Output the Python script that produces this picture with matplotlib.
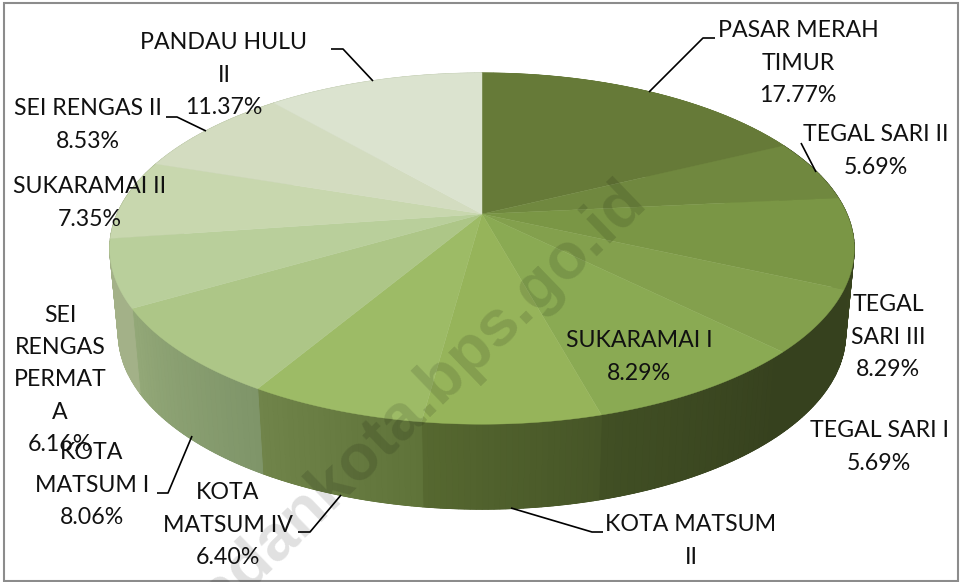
import numpy as np
import matplotlib
matplotlib.use("Agg")
import matplotlib.pyplot as plt
from matplotlib.patches import Rectangle

categories = ["PASAR MERAH\nTIMUR", "TEGAL SARI II", "TEGAL\nSARI III", "TEGAL SARI I",
              "SUKARAMAI I", "KOTA MATSUM\nII", "KOTA\nMATSUM IV", "KOTA\nMATSUM I",
              "SEI\nRENGAS\nPERMAT\nA", "SUKARAMAI II", "SEI RENGAS II", "PANDAU HULU\nII"]
values = [17.77, 5.69, 8.29, 5.69, 8.29, 6.40, 6.40, 8.06, 6.16, 7.35, 8.53, 11.37]

top_colors = ["#667a38", "#70883f", "#7a9645", "#83a04d", "#8aaa53", "#96b45a",
              "#9dbb66", "#adc687", "#b9cf9b", "#c8d7ae", "#d3dcc0", "#dbe3cf"]
# side wall colours at the start and end of each slice (clockwise)
side_colors = [("#667a38", "#667a38"), ("#3c4820", "#3c4820"), ("#3c4820", "#36411e"),
               ("#36411e", "#36411e"), ("#36411e", "#414f24"), ("#465527", "#566830"),
               ("#5f7339", "#70844a"), ("#7f9569", "#93a878"), ("#a3b188", "#a3b188"),
               ("#a3b188", "#a3b188"), ("#b8c4a4", "#b8c4a4"), ("#c0cbb0", "#c0cbb0")]

label_pos = [(798, 63), (876, 151), (888, 337), (879, 447), (639, 357), (691, 541),
             (228, 525), (92, 485), (60, 380), (90, 203), (88, 125), (224, 75)]
leaders = [[(649, 92), (703, 38), (715, 38)],
           [(816, 172), (801, 143)],
           [(511, 508), (592, 532), (603, 532)],
           [(341, 495), (310, 532), (298, 532)],
           [(192, 436), (168, 493), (157, 493)],
           [(206, 131), (177, 117), (166, 117)],
           [(373, 81), (343, 49), (331, 49)]]

# perspective of the pie: front of the disc looks bigger than the back
cx, cy = 482, 214
persp = 0.197
rx, ry = 365, 168.8
depth = 85
shrink_bottom = 0.977


def rim(theta, shrink=1.0, drop=0):
    w = 1 + persp * np.cos(theta)
    x = cx + shrink * rx * np.sin(theta) / w
    y = cy + drop - ry * np.cos(theta) / w
    return x, y


def lerp_color(c1, c2, t):
    a = np.array(matplotlib.colors.to_rgb(c1))
    b = np.array(matplotlib.colors.to_rgb(c2))
    return a + (b - a) * t


fig = plt.figure(figsize=(9.63, 5.82), dpi=100)
ax = fig.add_axes([0, 0, 1, 1])
ax.set_xlim(0, 963)
ax.set_ylim(582, 0)
ax.axis("off")

edges = np.radians(np.cumsum([0] + values) / sum(values) * 360)

# side wall: one solid piece per slice, then thin strips on it for the gradient
for i in range(len(values)):
    t = np.linspace(edges[i], edges[i + 1], 80)
    x1, y1 = rim(t)
    x2, y2 = rim(t[::-1], shrink_bottom, depth)
    ax.fill(np.r_[x1, x2], np.r_[y1, y2], color=side_colors[i][0], lw=0.5)
    steps = np.linspace(edges[i], edges[i + 1], 31)
    for j in range(30):
        s = np.array([steps[j], steps[j + 1]])
        x1, y1 = rim(s)
        x2, y2 = rim(s[::-1], shrink_bottom, depth)
        col = lerp_color(side_colors[i][0], side_colors[i][1], j / 29)
        ax.fill(np.r_[x1, x2], np.r_[y1, y2], color=col, lw=0.7)

# top face
for i in range(len(values)):
    t = np.linspace(edges[i], edges[i + 1], 80)
    x, y = rim(t)
    ax.fill(np.r_[cx, x], np.r_[cy, y], color=top_colors[i], lw=0.3)

# watermark
ax.text(648, 203, "badankota.bps.go.id", rotation=44, rotation_mode="anchor",
        ha="right", va="baseline", fontsize=47, fontweight="bold",
        family="Liberation Sans", color="black", alpha=0.12)

for pts in leaders:
    ax.plot([p[0] for p in pts], [p[1] for p in pts], color="black", lw=1.2,
            solid_capstyle="butt")

for i, name in enumerate(categories):
    label = name + "\n" + f"{values[i]:.2f}%"
    if name == "KOTA MATSUM\nII":
        label = name
    ax.text(label_pos[i][0], label_pos[i][1], label, ha="center", va="center",
            family="Lato", fontsize=16.7, linespacing=1.66, color="#111111")

ax.add_patch(Rectangle((4, 3), 954, 578, fill=False, ec="#8c8c8c", lw=1.5))

fig.savefig("out.png", dpi=100)
